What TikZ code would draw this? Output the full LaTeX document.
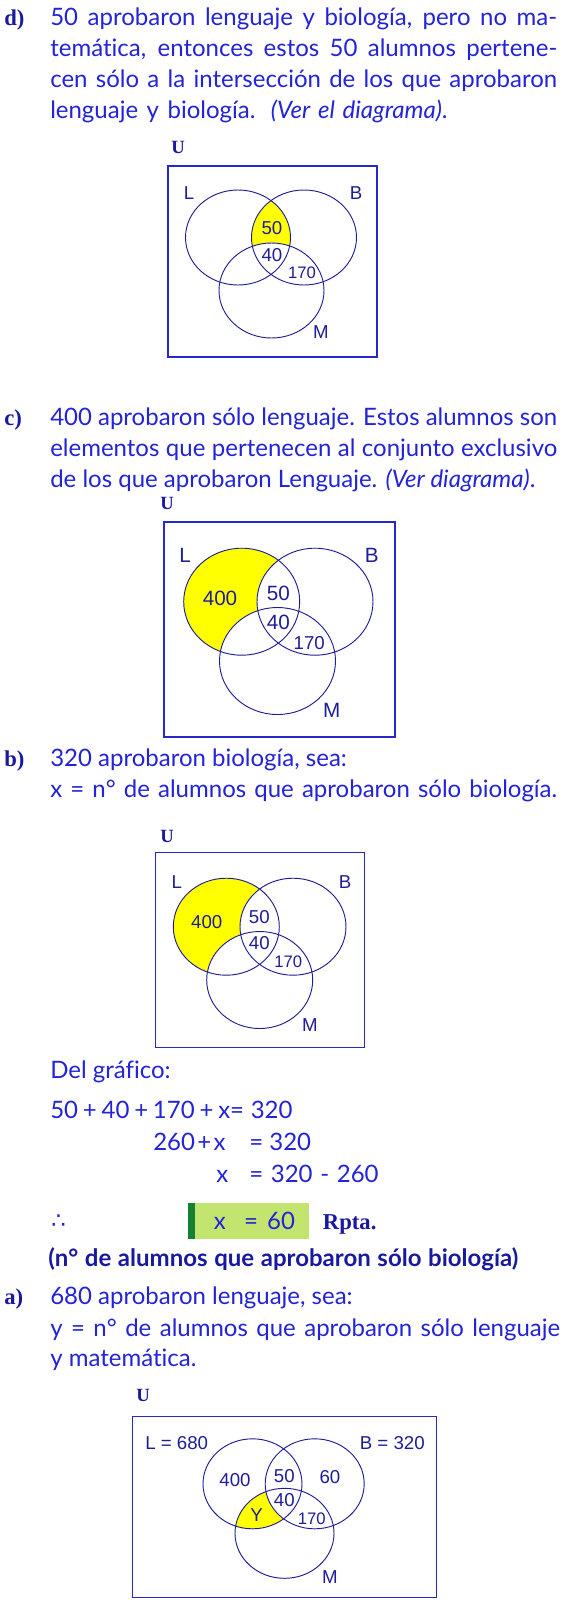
\documentclass[tikz,border=0pt]{standalone}
\usepackage{fontspec}
\usepackage{graphicx}
\setmainfont{Lato}[Ligatures=NoCommon]
\newfontfamily\diagfont{Liberation Sans}
\newfontfamily\serifU{Liberation Serif}
\newfontfamily\symfont{DejaVu Sans}
\definecolor{textblue}{RGB}{35,35,215}
\definecolor{darkblue}{RGB}{25,25,160}
\definecolor{boxblue}{RGB}{40,40,200}
\definecolor{navy}{RGB}{30,30,150}
\definecolor{vyellow}{RGB}{255,255,0}
\definecolor{lgreen}{RGB}{195,228,110}
\definecolor{dgreen}{RGB}{20,130,50}
\newlength\fitlen
\newcommand\fitto[2]{\settowidth\fitlen{#2}\ifdim\fitlen>#1\relax\resizebox{#1}{\height}{#2}\else\makebox[#1][s]{#2}\fi}
\newcommand\jl[1]{\fitto{380.25pt}{#1}}
\newcommand\pl{\kern1.8pt+\kern1.8pt}
\newcommand\plw{\kern3.6pt+\kern3.6pt}
\begin{document}
\begin{tikzpicture}[x=0.75pt,y=-0.75pt,
  txt/.style={anchor=base west, inner sep=0pt, text=textblue, font=\fontsize{18}{21}\selectfont},
  lbl/.style={anchor=base west, inner sep=0pt, text=darkblue, font=\bfseries\fontsize{18}{21}\selectfont},
  slbl/.style={anchor=base west, inner sep=0pt, text=darkblue, font=\serifU\bfseries\fontsize{17}{20}\selectfont},
  unode/.style={anchor=base, inner sep=0pt, text=darkblue, font=\serifU\bfseries\fontsize{14}{16}\selectfont},
  ubox/.style={draw=boxblue, line width=1.1pt},
  venn/.style={draw=navy, line width=0.7pt},
  vl/.style={inner sep=0pt, text=navy, font=\diagfont\fontsize{14}{16}\selectfont},
  vlb/.style={inner sep=0pt, text=navy, font=\diagfont\fontsize{15.5}{18}\selectfont},
  vs/.style={inner sep=0pt, text=navy, font=\diagfont\fontsize{12.5}{14}\selectfont}]
\useasboundingbox (0,0) rectangle (564,1600);
\fill[white] (0,0) rectangle (564,1600);

% ---------- d ----------
\node[slbl] (dlab) at (4,25) {d)};
\node[txt] (dl1) at (50,25) {\jl{50 aprobaron lenguaje y biología, pero no ma-}};
\node[txt] (dl2) at (50,56) {\jl{temática, entonces estos 50 alumnos pertene-}};
\node[txt] (dl3) at (50,87) {\jl{cen sólo a la intersección de los que aprobaron}};
\node[txt] (dl4) at (50,118) {\fitto{298pt}{lenguaje y biología. \textit{(Ver el diagrama)}.}};
\node[unode] (du) at (178,153) {U};
\draw[ubox] (168,166) rectangle (377,357);
\begin{scope}
\clip (238,237.5) ellipse [x radius=52.5, y radius=47.5];
\clip (304,237.5) ellipse [x radius=52.5, y radius=47.5];
\fill[vyellow] (168,166) rectangle (377,357);
\fill[white] (271.5,290.5) ellipse [x radius=52.5, y radius=47.5];
\end{scope}
\draw[venn] (238,237.5) ellipse [x radius=52.5, y radius=47.5];
\draw[venn] (304,237.5) ellipse [x radius=52.5, y radius=47.5];
\draw[venn] (271.5,290.5) ellipse [x radius=52.5, y radius=47.5];
\node[vl] (dL) at (189,193) {L};
\node[vl] (dB) at (356,193) {B};
\node[vl] (dM) at (321,332) {M};
\node[vl] (d50) at (272,228) {50};
\node[vl] (d40) at (272,255) {40};
\node[vs] (d170) at (302,273) {170};

% ---------- c ----------
\node[slbl] (clab) at (4,425) {c)};
\node[txt] (cl1) at (50,425) {\jl{400 aprobaron sólo lenguaje. Estos alumnos son}};
\node[txt] (cl2) at (50,456) {\jl{elementos que pertenecen al conjunto exclusivo}};
\node[txt] (cl3) at (50,487) {de los que aprobaron Lenguaje. \textit{(Ver diagrama)}.};
\node[unode] (cu) at (167,509) {U};
\draw[ubox] (164,522) rectangle (395,737);
\begin{scope}
\clip (241.7,601.7) ellipse [x radius=58, y radius=53.5];
\fill[vyellow] (164,522) rectangle (395,737);
\fill[white] (315,601.7) ellipse [x radius=58, y radius=53.5];
\fill[white] (277.5,661) ellipse [x radius=58, y radius=53.5];
\end{scope}
\draw[venn] (241.7,601.7) ellipse [x radius=58, y radius=53.5];
\draw[venn] (315,601.7) ellipse [x radius=58, y radius=53.5];
\draw[venn] (277.5,661) ellipse [x radius=58, y radius=53.5];
\node[vlb] (cL) at (185,555) {L};
\node[vlb] (cB) at (371.7,555) {B};
\node[vlb] (cM) at (331.7,710) {M};
\node[vlb] (c400) at (220,598.3) {400};
\node[vlb] (c50) at (278.3,593.3) {50};
\node[vlb] (c40) at (278.3,622.7) {40};
\node[vl] (c170) at (309.3,643.3) {170};

% ---------- b ----------
\node[slbl] (blab) at (4,766) {b)};
\node[txt] (bl1) at (50,766) {320 aprobaron biología, sea:};
\node[txt] (bl2) at (50,797) {\jl{x = n° de alumnos que aprobaron sólo biología.}};
\node[unode] (bu) at (167,842) {U};
\draw[ubox] (155.7,852.7) rectangle (364.3,1047.3);
\begin{scope}
\clip (226.3,926.7) ellipse [x radius=53, y radius=48.5];
\fill[vyellow] (155.7,852.7) rectangle (364.3,1047.3);
\fill[white] (293,926.7) ellipse [x radius=53, y radius=48.5];
\fill[white] (259.7,980) ellipse [x radius=53, y radius=48.5];
\end{scope}
\draw[venn] (226.3,926.7) ellipse [x radius=53, y radius=48.5];
\draw[venn] (293,926.7) ellipse [x radius=53, y radius=48.5];
\draw[venn] (259.7,980) ellipse [x radius=53, y radius=48.5];
\node[vl] (bL) at (176.7,881.7) {L};
\node[vl] (bB) at (345,881.7) {B};
\node[vl] (bM) at (310,1025) {M};
\node[vl] (b400) at (206.7,921.7) {400};
\node[vl] (b50) at (259.3,916.7) {50};
\node[vl] (b40) at (259.3,943.3) {40};
\node[vs] (b170) at (288.3,961.7) {170};

\node[txt] (del) at (50,1078) {Del gráfico:};
\node[txt] (eq1) at (50,1118) {50\plw 40\plw 170\plw x=\kern5pt 320};
\node[txt] (eq2a) at (153,1150) {260\pl x};
\node[txt] (eq2b) at (249,1150) {= 320};
\node[txt] (eq3a) at (216,1182) {x};
\node[txt] (eq3b) at (249,1182) {\fitto{97pt}{= 320 - 260}};
\node[txt, font=\symfont\fontsize{17}{20}\selectfont] (thf) at (51,1228) {∴};
\fill[lgreen] (188.3,1202.7) rectangle (309.3,1239.3);
\fill[dgreen] (188.3,1202.7) rectangle (195,1239.3);
\node[txt] (res) at (213.5,1229) {\makebox[61pt][s]{x\ \ = 60}};
\node[slbl] (rpta) at (322.7,1229) {Rpta.};
\node[lbl] (nota) at (48,1266) {\fitto{352.5pt}{(n° de alumnos que aprobaron sólo biología)}};

% ---------- a ----------
\node[slbl] (alab) at (4,1304) {a)};
\node[txt] (al1) at (50,1304) {680 aprobaron lenguaje, sea:};
\node[txt] (al2) at (50,1336) {\fitto{382.5pt}{y = n° de alumnos que aprobaron sólo lenguaje}};
\node[txt] (al3) at (50,1366) {y matemática.};
\node[unode] (au) at (143,1401) {U};
\draw[ubox] (132.3,1416.7) rectangle (436.7,1597.3);
\begin{scope}
\clip (252.5,1483.8) ellipse [x radius=49.5, y radius=45];
\clip (284.5,1533.3) ellipse [x radius=49.5, y radius=45];
\fill[vyellow] (132.3,1416.7) rectangle (436.7,1597.3);
\fill[white] (314.7,1483.8) ellipse [x radius=49.5, y radius=45];
\end{scope}
\draw[venn] (252.5,1483.8) ellipse [x radius=49.5, y radius=45];
\draw[venn] (314.7,1483.8) ellipse [x radius=49.5, y radius=45];
\draw[venn] (284.5,1533.3) ellipse [x radius=49.5, y radius=45];
\node[vl, anchor=west] (aL) at (145,1443.3) {L = 680};
\node[vl, anchor=east] (aB) at (425,1443.3) {B = 320};
\node[vl] (a400) at (235,1480) {400};
\node[vl] (a50) at (284.3,1476) {50};
\node[vl] (a60) at (330,1477.3) {60};
\node[vl] (aY) at (256.7,1515) {Y};
\node[vl] (a40) at (284.3,1500) {40};
\node[vs] (a170) at (311.7,1518.3) {170};
\node[vl] (aM) at (330,1576.7) {M};
\end{tikzpicture}
\end{document}
